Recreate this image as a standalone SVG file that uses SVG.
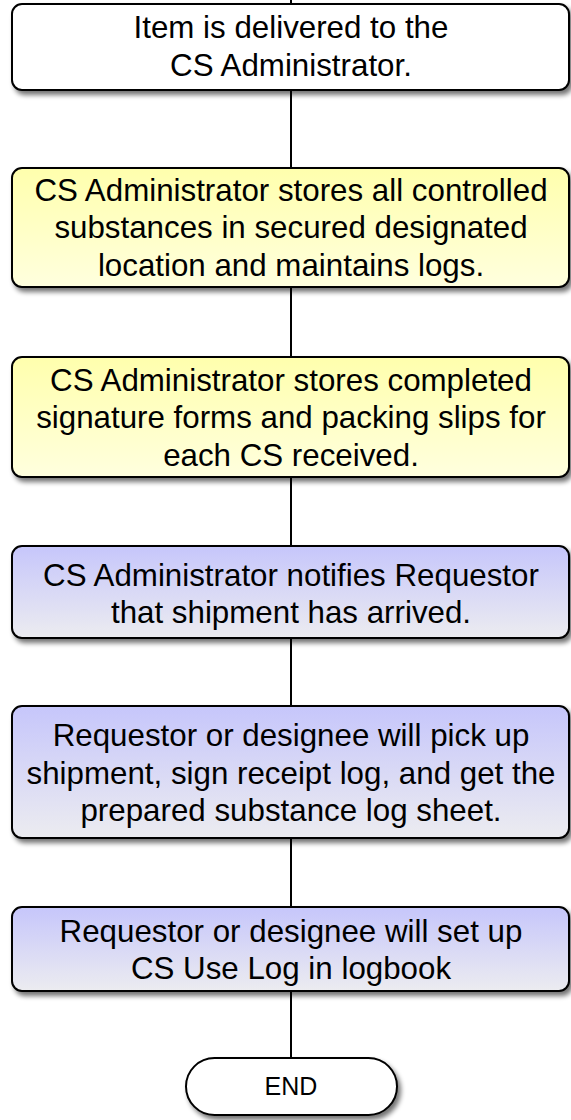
<svg xmlns="http://www.w3.org/2000/svg" width="571" height="1120" viewBox="0 0 571 1120">
<defs>
<linearGradient id="gy" x1="0" y1="0" x2="0" y2="1"><stop offset="0" stop-color="#ffffad"/><stop offset="1" stop-color="#ffffde"/></linearGradient>
<linearGradient id="gp" x1="0" y1="0" x2="0" y2="1"><stop offset="0" stop-color="#c6c6fb"/><stop offset="1" stop-color="#ececf0"/></linearGradient>
<filter id="sh" x="-5%" y="-10%" width="115%" height="130%"><feGaussianBlur in="SourceAlpha" stdDeviation="2.5"/><feOffset dx="3" dy="4" result="b"/><feComponentTransfer><feFuncA type="linear" slope="0.55"/></feComponentTransfer><feMerge><feMergeNode/><feMergeNode in="SourceGraphic"/></feMerge></filter>
</defs>
<style>
.box{stroke:#000;stroke-width:2;filter:url(#sh)}
.w{fill:#fff}.y{fill:url(#gy)}.p{fill:url(#gp)}
text{font-family:"Liberation Sans",Arial,sans-serif;font-size:31.3px;fill:#000;text-anchor:middle}
.conn{stroke:#000;stroke-width:2;fill:none}
</style>
<g id="connectors">
<line class="conn" x1="291" y1="0" x2="291" y2="1058"/>
</g>
<g id="n1"><rect class="box w" x="12" y="4" width="557" height="86" rx="10"/>
<text x="291" y="38">Item is delivered to the</text><text x="291" y="76">CS Administrator.</text></g>
<g id="n2"><rect class="box y" x="12" y="168" width="557" height="119" rx="10"/>
<text x="291" y="201">CS Administrator stores all controlled</text><text x="291" y="238">substances in secured designated</text><text x="291" y="276">location and maintains logs.</text></g>
<g id="n3"><rect class="box y" x="12" y="357" width="557" height="120" rx="10"/>
<text x="291" y="391">CS Administrator stores completed</text><text x="291" y="428">signature forms and packing slips for</text><text x="291" y="466">each CS received.</text></g>
<g id="n4"><rect class="box p" x="12" y="546" width="557" height="92" rx="10"/>
<text x="291" y="586">CS Administrator notifies Requestor</text><text x="291" y="623">that shipment has arrived.</text></g>
<g id="n5"><rect class="box p" x="12" y="706" width="557" height="132" rx="10"/>
<text x="291" y="746">Requestor or designee will pick up</text><text x="291" y="784">shipment, sign receipt log, and get the</text><text x="291" y="821">prepared substance log sheet.</text></g>
<g id="n6"><rect class="box p" x="12" y="907" width="557" height="84" rx="10"/>
<text x="291" y="942">Requestor or designee will set up</text><text x="291" y="979">CS Use Log in logbook</text></g>
<g id="end"><rect class="box w" x="186" y="1058" width="211" height="57" rx="28.5"/>
<text x="291" y="1095" style="font-size:25px">END</text></g>
</svg>
